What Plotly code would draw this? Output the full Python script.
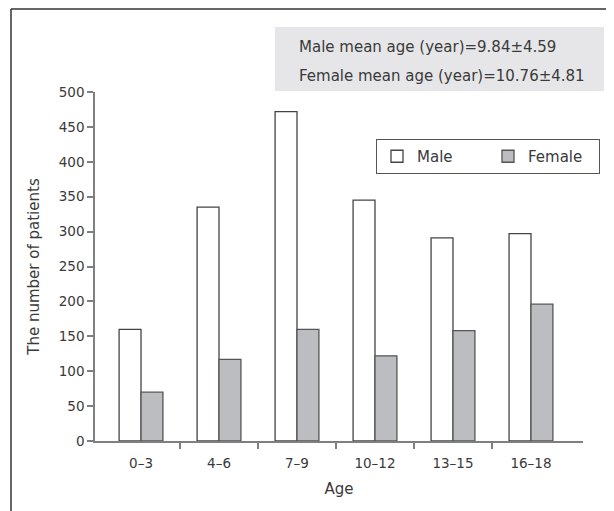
import plotly.graph_objects as go

categories = ["0–3", "4–6", "7–9", "10–12", "13–15", "16–18"]
male = [160, 335, 472, 345, 291, 297]
female = [70, 117, 160, 122, 158, 196]
y_ticks = [0, 50, 100, 150, 200, 250, 300, 350, 400, 450, 500]
stats_lines = ["Male mean age (year)=9.84±4.59", "Female mean age (year)=10.76±4.81"]

FONT = "DejaVu Sans"
x_idx = list(range(len(categories)))

fig = go.Figure()
fig.add_trace(go.Bar(x=x_idx, y=male, name="Male", marker=dict(color="white", line=dict(color="#444444", width=1.3))))
fig.add_trace(go.Bar(x=x_idx, y=female, name="Female", marker=dict(color="#bcbdc1", line=dict(color="#555555", width=1.3))))

OFF = 8  # default page body margin
W, H = 614 - OFF, 511 - OFF
# plot area in page coordinates: x 95..583, y 92..441
L, R, T, B = 95 - OFF, W - (583 - OFF), 92 - OFF, H - (441 - OFF)
pw, ph = W - L - R, H - T - B

def px(x):
    return (x - OFF - L) / pw

def py(y):
    return (H - B - (y - OFF)) / ph

shapes = [
    dict(type="line", xref="paper", yref="paper", x0=px(11), x1=px(620), y0=py(9), y1=py(9), line=dict(color="#333333", width=1.5)),
    dict(type="line", xref="paper", yref="paper", x0=px(11), x1=px(11), y0=py(9), y1=py(520), line=dict(color="#333333", width=1.5)),
    dict(type="rect", xref="paper", yref="paper", x0=px(275), x1=px(604), y0=py(27), y1=py(91), fillcolor="#e6e6e8", line=dict(width=0), layer="below"),
]
annotations = [
    dict(xref="paper", yref="paper", x=px(297), y=py(47), text=stats_lines[0], showarrow=False, xanchor="left", yanchor="middle", font=dict(size=15, color="#3a3a3a", family=FONT)),
    dict(xref="paper", yref="paper", x=px(297), y=py(76), text=stats_lines[1], showarrow=False, xanchor="left", yanchor="middle", font=dict(size=15, color="#3a3a3a", family=FONT)),
]

fig.update_layout(
    width=W, height=H,
    margin=dict(l=L, r=R, t=T, b=B, autoexpand=False),
    paper_bgcolor="white", plot_bgcolor="white",
    font=dict(family=FONT, size=13, color="#3a3a3a"),
    barmode="group", bargap=0.438, bargroupgap=0,
    showlegend=True,
    legend=dict(orientation="h", x=px(376), y=py(139), xanchor="left", yanchor="top",
                bordercolor="#555555", borderwidth=1, bgcolor="white",
                entrywidth=66, font=dict(size=15, family=FONT, color="#3a3a3a")),
    shapes=shapes, annotations=annotations,
    xaxis=dict(range=[-0.59, 5.667], tickmode="array", tickvals=x_idx, ticktext=categories,
               ticks="outside", ticklen=9, tickcolor="rgba(0,0,0,0)", showline=True, linecolor="#7f7f7f", linewidth=1.5,
               showgrid=False, zeroline=False,
               minor=dict(tickmode="array", tickvals=[0.5, 1.5, 2.5, 3.5, 4.5], ticks="outside", ticklen=6, tickcolor="#7f7f7f", tickwidth=1.5),
               title=dict(text="Age", standoff=14, font=dict(size=15)), tickfont=dict(size=13.5)),
    yaxis=dict(range=[0, 500], tickmode="array", tickvals=y_ticks, ticks="outside", ticklen=6, tickcolor="#7f7f7f", tickwidth=1.5,
               showline=True, linecolor="#7f7f7f", linewidth=1.5, showgrid=False, zeroline=False,
               title=dict(text="The number of patients", standoff=16, font=dict(size=15)), tickfont=dict(size=13.5)),
)

fig.write_html("out.html")
